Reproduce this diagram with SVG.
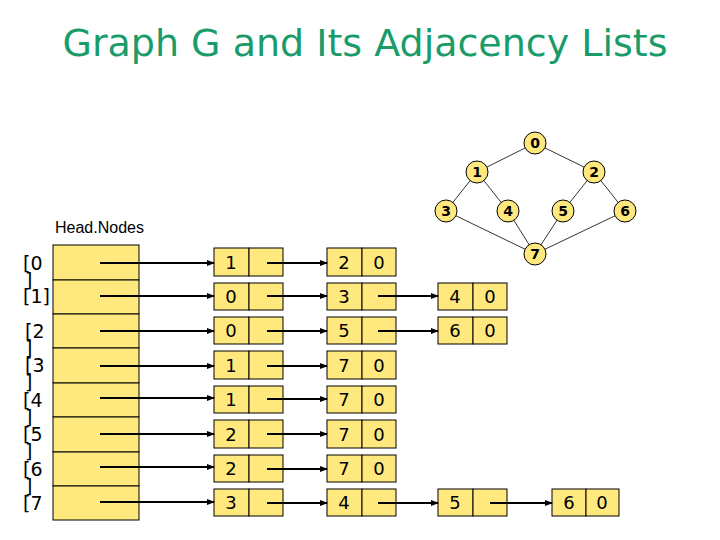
<svg xmlns="http://www.w3.org/2000/svg" width="720" height="540" viewBox="0 0 720 540">
<style>
.t{font-family:"DejaVu Sans",sans-serif;fill:#000}
.cell{fill:#ffe97f;stroke:#000;stroke-width:1}
.n{font-family:"DejaVu Sans",sans-serif;font-size:18px;text-anchor:middle}
.g{fill:#ffe97f;stroke:#000;stroke-width:1}
.gn{font-family:"DejaVu Sans",sans-serif;font-size:14px;font-weight:bold;text-anchor:middle}
.e{stroke:#000;stroke-width:0.8}
.a{stroke:#000;stroke-width:2;marker-end:url(#ah)}
.lb{font-family:"DejaVu Sans",sans-serif;font-size:19px}
</style>
<defs><marker id="ah" markerWidth="8" markerHeight="8" refX="7" refY="4" orient="auto" markerUnits="userSpaceOnUse"><path d="M0,1 L8,4 L0,7 Z" fill="#000"/></marker></defs>
<rect width="720" height="540" fill="#fff"/>
<text x="365" y="56" class="t" font-size="38" text-anchor="middle" fill="#1a9c6a" style="fill:#1a9c6a">Graph G and Its Adjacency Lists</text>
<text x="55" y="233" font-family="Liberation Sans,sans-serif" font-size="16">Head.Nodes</text>
<g id="graph-edges">
<line class="e" x1="535" y1="143" x2="477" y2="172"/><line class="e" x1="535" y1="143" x2="594" y2="172"/>
<line class="e" x1="477" y1="172" x2="446" y2="211"/><line class="e" x1="477" y1="172" x2="508" y2="211"/>
<line class="e" x1="594" y1="172" x2="563" y2="211"/><line class="e" x1="594" y1="172" x2="625" y2="211"/>
<line class="e" x1="446" y1="211" x2="535" y2="254"/><line class="e" x1="508" y1="211" x2="535" y2="254"/>
<line class="e" x1="563" y1="211" x2="535" y2="254"/><line class="e" x1="625" y1="211" x2="535" y2="254"/>
</g>
<g id="v0"><circle class="g" cx="535" cy="143" r="11"/><text class="gn" x="535" y="148">0</text></g>
<g id="v1"><circle class="g" cx="477" cy="172" r="11"/><text class="gn" x="477" y="177">1</text></g>
<g id="v2"><circle class="g" cx="594" cy="172" r="11"/><text class="gn" x="594" y="177">2</text></g>
<g id="v3"><circle class="g" cx="446" cy="211" r="11"/><text class="gn" x="446" y="216">3</text></g>
<g id="v4"><circle class="g" cx="508" cy="211" r="11"/><text class="gn" x="508" y="216">4</text></g>
<g id="v5"><circle class="g" cx="563" cy="211" r="11"/><text class="gn" x="563" y="216">5</text></g>
<g id="v6"><circle class="g" cx="625" cy="211" r="11"/><text class="gn" x="625" y="216">6</text></g>
<g id="v7"><circle class="g" cx="535" cy="254" r="11"/><text class="gn" x="535" y="259">7</text></g>
<g id="heads">
<rect class="cell" x="53" y="245" width="86" height="35"/><rect class="cell" x="53" y="280" width="86" height="34"/>
<rect class="cell" x="53" y="314" width="86" height="34"/><rect class="cell" x="53" y="348" width="86" height="35"/>
<rect class="cell" x="53" y="383" width="86" height="34"/><rect class="cell" x="53" y="417" width="86" height="35"/>
<rect class="cell" x="53" y="452" width="86" height="34"/><rect class="cell" x="53" y="486" width="86" height="34"/>
</g>
<g id="labels" class="lb">
<text x="23" y="270">[0</text><text x="25" y="287">]</text>
<text x="23" y="303">[1]</text>
<text x="25" y="338">[2</text><text x="25" y="355">]</text>
<text x="25" y="372">[3</text><text x="25" y="389">]</text>
<text x="23" y="407">[4</text><text x="25" y="424">]</text>
<text x="23" y="441">[5</text><text x="25" y="458">]</text>
<text x="23" y="476">[6</text><text x="25" y="493">]</text>
<text x="23" y="510">[7</text>
</g>
<g id="list-nodes">
<g id="r0"><rect class="cell" x="214" y="248" width="35" height="28"/><rect class="cell" x="249" y="248" width="34" height="28"/><text class="n" x="231" y="269">1</text>
<rect class="cell" x="327" y="248" width="35" height="28"/><rect class="cell" x="362" y="248" width="34" height="28"/><text class="n" x="344" y="269">2</text><text class="n" x="379" y="269">0</text></g>
<g id="r1"><rect class="cell" x="214" y="283" width="35" height="27"/><rect class="cell" x="249" y="283" width="34" height="27"/><text class="n" x="231" y="303">0</text>
<rect class="cell" x="327" y="283" width="35" height="27"/><rect class="cell" x="362" y="283" width="34" height="27"/><text class="n" x="344" y="303">3</text>
<rect class="cell" x="438" y="283" width="35" height="27"/><rect class="cell" x="473" y="283" width="34" height="27"/><text class="n" x="455" y="303">4</text><text class="n" x="490" y="303">0</text></g>
<g id="r2"><rect class="cell" x="214" y="317" width="35" height="27"/><rect class="cell" x="249" y="317" width="34" height="27"/><text class="n" x="231" y="337">0</text>
<rect class="cell" x="327" y="317" width="35" height="27"/><rect class="cell" x="362" y="317" width="34" height="27"/><text class="n" x="344" y="337">5</text>
<rect class="cell" x="438" y="317" width="35" height="27"/><rect class="cell" x="473" y="317" width="34" height="27"/><text class="n" x="455" y="337">6</text><text class="n" x="490" y="337">0</text></g>
<g id="r3"><rect class="cell" x="214" y="351" width="35" height="28"/><rect class="cell" x="249" y="351" width="34" height="28"/><text class="n" x="231" y="372">1</text>
<rect class="cell" x="327" y="351" width="35" height="28"/><rect class="cell" x="362" y="351" width="34" height="28"/><text class="n" x="344" y="372">7</text><text class="n" x="379" y="372">0</text></g>
<g id="r4"><rect class="cell" x="214" y="386" width="35" height="27"/><rect class="cell" x="249" y="386" width="34" height="27"/><text class="n" x="231" y="406">1</text>
<rect class="cell" x="327" y="386" width="35" height="27"/><rect class="cell" x="362" y="386" width="34" height="27"/><text class="n" x="344" y="406">7</text><text class="n" x="379" y="406">0</text></g>
<g id="r5"><rect class="cell" x="214" y="420" width="35" height="28"/><rect class="cell" x="249" y="420" width="34" height="28"/><text class="n" x="231" y="441">2</text>
<rect class="cell" x="327" y="420" width="35" height="28"/><rect class="cell" x="362" y="420" width="34" height="28"/><text class="n" x="344" y="441">7</text><text class="n" x="379" y="441">0</text></g>
<g id="r6"><rect class="cell" x="214" y="455" width="35" height="27"/><rect class="cell" x="249" y="455" width="34" height="27"/><text class="n" x="231" y="475">2</text>
<rect class="cell" x="327" y="455" width="35" height="27"/><rect class="cell" x="362" y="455" width="34" height="27"/><text class="n" x="344" y="475">7</text><text class="n" x="379" y="475">0</text></g>
<g id="r7"><rect class="cell" x="214" y="489" width="35" height="27"/><rect class="cell" x="249" y="489" width="34" height="27"/><text class="n" x="231" y="509">3</text>
<rect class="cell" x="327" y="489" width="35" height="27"/><rect class="cell" x="362" y="489" width="34" height="27"/><text class="n" x="344" y="509">4</text>
<rect class="cell" x="438" y="489" width="35" height="27"/><rect class="cell" x="473" y="489" width="34" height="27"/><text class="n" x="455" y="509">5</text>
<rect class="cell" x="552" y="489" width="34" height="27"/><rect class="cell" x="586" y="489" width="33" height="27"/><text class="n" x="569" y="509">6</text><text class="n" x="602" y="509">0</text></g>
</g>
<g id="connectors">
<line class="a" x1="100" y1="263" x2="214" y2="263"/><line class="a" x1="267" y1="263" x2="327" y2="263"/>
<line class="a" x1="100" y1="296" x2="214" y2="296"/><line class="a" x1="267" y1="296" x2="327" y2="296"/><line class="a" x1="378" y1="296" x2="438" y2="296"/>
<line class="a" x1="100" y1="331" x2="214" y2="331"/><line class="a" x1="267" y1="331" x2="327" y2="331"/><line class="a" x1="378" y1="331" x2="438" y2="331"/>
<line class="a" x1="100" y1="366" x2="214" y2="366"/><line class="a" x1="267" y1="366" x2="327" y2="366"/>
<line class="a" x1="100" y1="398" x2="214" y2="398"/><line class="a" x1="267" y1="399" x2="327" y2="399"/>
<line class="a" x1="100" y1="434" x2="214" y2="434"/><line class="a" x1="267" y1="434" x2="327" y2="434"/>
<line class="a" x1="100" y1="467" x2="214" y2="467"/><line class="a" x1="267" y1="469" x2="327" y2="469"/>
<line class="a" x1="100" y1="502" x2="214" y2="502"/><line class="a" x1="267" y1="503" x2="327" y2="503"/><line class="a" x1="378" y1="503" x2="438" y2="503"/><line class="a" x1="490" y1="503" x2="552" y2="503"/>
</g>
</svg>
